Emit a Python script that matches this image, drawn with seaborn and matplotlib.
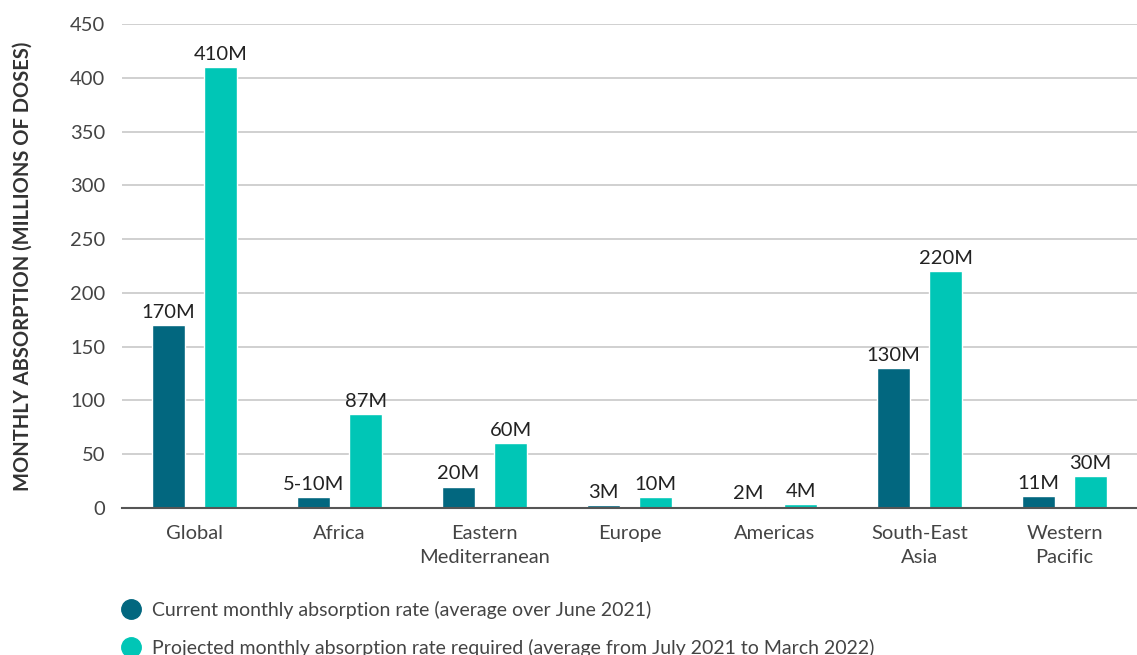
import matplotlib
matplotlib.use("Agg")
import matplotlib.pyplot as plt
import seaborn as sns
import pandas as pd
from matplotlib.lines import Line2D

regions = ["Global", "Africa", "Eastern\nMediterranean", "Europe", "Americas", "South-East\nAsia", "Western\nPacific"]
current = [170, 10, 20, 3, 2, 130, 11]
projected = [410, 87, 60, 10, 4, 220, 30]
current_labels = ["170M", "5-10M", "20M", "3M", "2M", "130M", "11M"]
projected_labels = ["410M", "87M", "60M", "10M", "4M", "220M", "30M"]
series = ["Current monthly absorption rate (average over June 2021)",
          "Projected monthly absorption rate required (average from July 2021 to March 2022)"]
colors = ["#02677F", "#00C6B6"]
yticks = [0, 50, 100, 150, 200, 250, 300, 350, 400, 450]

df = pd.DataFrame({
    "region": regions * 2,
    "value": current + projected,
    "series": [series[0]] * len(regions) + [series[1]] * len(regions),
})

sns.set_theme(style="white")
plt.rcParams["font.family"] = ["Lato", "DejaVu Sans"]

fig = plt.figure(figsize=(11.37, 6.55), dpi=100)
ax = fig.add_axes([0.1073, 0.2244, 0.8927, 0.739])

sns.barplot(data=df, x="region", y="value", hue="series", order=regions,
            hue_order=series, palette=colors, width=0.72, gap=0.367,
            saturation=1, ax=ax, legend=False)

for cont, labs in zip(ax.containers, [current_labels, projected_labels]):
    ax.bar_label(cont, labels=labs, padding=3, fontsize=14.5, color="#222222")

ax.set_ylim(0, 450)
ax.set_xlim(-0.5, 6.5)
ax.set_yticks(yticks)
ax.yaxis.grid(True, color="#c8c8c8", linewidth=1.2)
ax.set_axisbelow(True)
for s in ["left", "right", "top"]:
    ax.spines[s].set_visible(False)
ax.spines["bottom"].set_color("#555555")
ax.spines["bottom"].set_linewidth(1.5)
ax.tick_params(axis="both", length=0, labelsize=14.5, colors="#444444")
ax.tick_params(axis="x", pad=12)
ax.tick_params(axis="y", pad=12)
for t in ax.get_xticklabels():
    t.set_linespacing(1.5)
ax.set_xlabel("")
ax.set_ylabel("MONTHLY ABSORPTION (MILLIONS OF DOSES)", fontsize=14.5,
              fontweight="bold", color="#333333")
ax.yaxis.set_label_coords(-0.088, 0.5)

handles = [Line2D([0], [0], marker="o", color="none", markerfacecolor=c,
                  markeredgecolor=c, markersize=14) for c in colors]
fig.legend(handles, series, loc="lower left", bbox_to_anchor=(0.090, -0.03),
           frameon=False, fontsize=14, labelcolor="#444444",
           handletextpad=0.45, labelspacing=1.05, handlelength=1.2)

fig.savefig("out.png", dpi=100)
